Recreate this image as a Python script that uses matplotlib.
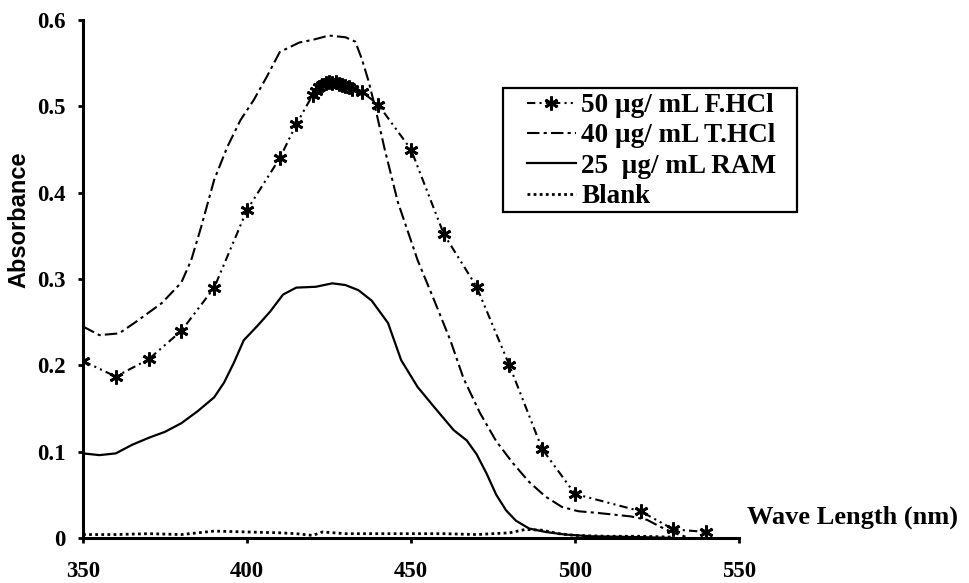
import matplotlib
matplotlib.use("Agg")
import matplotlib.pyplot as plt
from matplotlib.patches import Rectangle

# F.HCl (measured points, starred markers)
fhcl_x = [350, 360, 370, 380, 390, 400, 410, 415, 420, 421, 422, 423, 424, 425, 426,
          427, 428, 429, 430, 431, 432, 435, 440, 450, 460, 470, 480, 490, 500, 520, 530, 540]
fhcl_y = [0.205, 0.187, 0.207, 0.240, 0.290, 0.380, 0.440, 0.479, 0.513, 0.518, 0.522,
          0.525, 0.527, 0.528, 0.527, 0.528, 0.526, 0.525, 0.524, 0.522, 0.520, 0.517,
          0.502, 0.450, 0.352, 0.291, 0.200, 0.103, 0.051, 0.031, 0.010, 0.007]

# T.HCl
thcl_x = [350, 355, 361, 366, 374, 380, 383, 386, 390, 394, 398, 402, 406, 410, 416, 420,
          425, 430, 433, 435, 437, 439, 442, 446, 452, 457, 462, 466, 471, 476, 481, 486,
          491, 496, 501, 507, 512, 517, 522, 526, 530, 535]
thcl_y = [0.245, 0.235, 0.237, 0.250, 0.272, 0.296, 0.322, 0.360, 0.415, 0.453, 0.484,
          0.507, 0.534, 0.563, 0.574, 0.577, 0.582, 0.580, 0.575, 0.555, 0.530, 0.500,
          0.450, 0.389, 0.322, 0.276, 0.229, 0.185, 0.145, 0.112, 0.087, 0.065, 0.048,
          0.036, 0.031, 0.029, 0.027, 0.025, 0.021, 0.013, 0.006, 0.0]

# RAM
ram_x = [350, 355, 360, 365, 370, 375, 380, 385, 390, 393, 396, 399, 403, 407, 411, 415,
         421, 426, 430, 434, 438, 443, 447, 452, 457, 463, 467, 470, 473, 476, 479, 482,
         486, 491, 497, 505, 520, 530]
ram_y = [0.098, 0.096, 0.098, 0.108, 0.116, 0.123, 0.133, 0.147, 0.163, 0.180, 0.203,
         0.229, 0.245, 0.262, 0.282, 0.290, 0.291, 0.295, 0.293, 0.287, 0.275, 0.249,
         0.206, 0.175, 0.152, 0.125, 0.113, 0.097, 0.075, 0.050, 0.032, 0.020, 0.011,
         0.007, 0.004, 0.002, 0.001, 0.0]

# Blank
blank_x = [350, 360, 370, 380, 385, 390, 400, 410, 415, 420, 423, 430, 440, 450, 460,
           470, 480, 485, 490, 495, 500, 510, 520, 530]
blank_y = [0.004, 0.004, 0.005, 0.004, 0.006, 0.008, 0.007, 0.006, 0.005, 0.003, 0.007,
           0.005, 0.005, 0.005, 0.005, 0.004, 0.006, 0.010, 0.009, 0.005, 0.003, 0.002,
           0.002, 0.001]

labels = ["50 \u00b5g/ mL F.HCl", "40 \u00b5g/ mL T.HCl", "25  \u00b5g/ mL RAM", "Blank"]
x_ticks = [350, 400, 450, 500, 550]
y_ticks = [0, 0.1, 0.2, 0.3, 0.4, 0.5, 0.6]
y_ticklabels = ["0", "0.1", "0.2", "0.3", "0.4", "0.5", "0.6"]

serif = "Liberation Serif"
sans = "Liberation Sans"
W, H = 969, 583

fig = plt.figure(figsize=(W / 100, H / 100), dpi=100)
ax = fig.add_axes([83 / W, 1 - 538 / H, (739 - 83) / W, (538 - 20) / H])

ax.plot(fhcl_x, fhcl_y, color="black", linewidth=1.5, linestyle=(0, (4, 2, 1, 2, 1, 2)),
        marker=(6, 2, 0), markersize=10, markeredgewidth=2, label=labels[0])
ax.plot(thcl_x, thcl_y, color="black", linewidth=1.5, linestyle=(0, (6, 2, 1.5, 2)),
        label=labels[1])
ax.plot(ram_x, ram_y, color="black", linewidth=1.6, linestyle="-", label=labels[2])
ax.plot(blank_x, blank_y, color="black", linewidth=2, linestyle=(0, (1, 1.2)),
        label=labels[3])

ax.set_xlim(350, 550)
ax.set_ylim(0, 0.6)
ax.set_xticks(x_ticks)
ax.set_yticks(y_ticks)
ax.set_yticklabels(y_ticklabels)
for s in ["top", "right"]:
    ax.spines[s].set_visible(False)
for s in ["left", "bottom"]:
    ax.spines[s].set_linewidth(2.2)
ax.tick_params(axis="both", direction="out", length=3.6, width=2)
ax.tick_params(axis="x", pad=13)
ax.tick_params(axis="y", pad=9)
for lbl in ax.get_xticklabels() + ax.get_yticklabels():
    lbl.set_fontfamily(serif)
    lbl.set_fontweight("bold")
    lbl.set_fontsize(16.5)

fig.text(19 / W, 1 - 220 / H, "Absorbance", rotation=90, ha="center", va="center",
         fontfamily=sans, fontweight="bold", fontsize=17)
fig.text(747 / W, 1 - 517 / H, "Wave Length (nm)", ha="left", va="center",
         fontfamily=serif, fontweight="bold", fontsize=19)

# legend without its own frame; frame drawn as a separate box
leg = ax.legend(loc="upper left", bbox_to_anchor=(527 / W, 1 - 93 / H),
                bbox_transform=fig.transFigure, borderaxespad=0, borderpad=0,
                numpoints=1, handlelength=1.8, handletextpad=0.2, labelspacing=0.2,
                frameon=False, prop={"family": serif, "weight": "bold", "size": 19.5})
fig.add_artist(Rectangle((503 / W, 1 - 212 / H), (797 - 503) / W, (212 - 88) / H,
                         transform=fig.transFigure, fill=False, edgecolor="black",
                         linewidth=1.6))

fig.savefig("out.png", dpi=100)
